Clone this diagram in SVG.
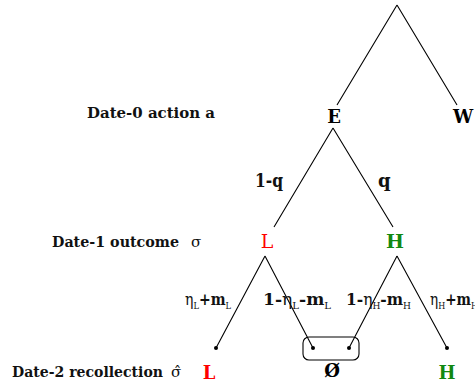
<svg xmlns="http://www.w3.org/2000/svg" width="475" height="387" viewBox="0 0 475 387">
<style>
.ln{stroke:#000;stroke-width:1.1;fill:none}
.lab{font-family:"DejaVu Serif","Liberation Serif",serif;font-weight:bold;font-size:14px;fill:#111}
.node{font-family:"DejaVu Serif","Liberation Serif",serif;font-weight:bold;font-size:18px;fill:#000}
.edge{font-family:"DejaVu Serif","Liberation Serif",serif;font-weight:bold;font-size:18px;fill:#111}
.eta{font-family:"DejaVu Serif","Liberation Serif",serif;font-size:17px;fill:#111}
.b{font-weight:bold}
.sub{font-size:10px}
.red{fill:#ff0000}
.green{fill:#118811}
.dot{fill:#000}
</style>
<rect width="475" height="387" fill="#fff"/>
<g id="connectors">
<path class="ln" d="M397,5 L337,105 M397,5 L457,105"/>
<path class="ln" d="M333,128 L274,227 M333,128 L393,227"/>
<path class="ln" d="M265,256 L216,348 M265,256 L313,348"/>
<path class="ln" d="M397,256 L349,348 M397,256 L447,348"/>
<rect class="ln" x="303" y="337" width="56" height="23" rx="6"/>
</g>
<g id="labels">
<text class="lab" x="87" y="118" textLength="128" lengthAdjust="spacingAndGlyphs">Date-0 action a</text>
<text class="lab" x="52" y="247" textLength="127" lengthAdjust="spacingAndGlyphs">Date-1 outcome</text>
<text class="eta" x="191" y="247" style="font-size:15px">σ</text>
<text class="lab" x="12" y="377" textLength="151" lengthAdjust="spacingAndGlyphs">Date-2 recollection</text>
<text class="eta" x="171" y="377" style="font-size:15px">σ̂</text>
</g>
<g id="node-root"/>
<g id="node-E"><text class="node" x="334" y="123" text-anchor="middle">E</text></g>
<g id="node-W"><text class="node" x="453" y="123">W</text></g>
<g id="node-L"><text class="node red" x="267" y="248" text-anchor="middle" style="font-weight:normal;font-size:19px">L</text></g>
<g id="node-H"><text class="node green" x="395" y="248" text-anchor="middle" style="font-size:19px">H</text></g>
<g id="node-LL"><circle class="dot" cx="216" cy="348" r="2"/><text class="node red" x="209" y="379" text-anchor="middle">L</text></g>
<g id="node-L0"><circle class="dot" cx="313" cy="348" r="2"/></g>
<g id="node-H0"><circle class="dot" cx="349" cy="348" r="2"/></g>
<g id="node-empty"><text class="node" x="332" y="377" text-anchor="middle">Ø</text></g>
<g id="node-HH"><circle class="dot" cx="447" cy="348" r="2"/><text class="node green" x="447" y="379" text-anchor="middle">H</text></g>
<g id="edge-labels">
<text class="edge" x="255" y="187" textLength="28" lengthAdjust="spacingAndGlyphs">1-q</text>
<text class="edge" x="378" y="187">q</text>
<text class="eta" x="185" y="305" textLength="46" lengthAdjust="spacingAndGlyphs">η<tspan class="sub" dy="4">L</tspan><tspan dy="-4" class="b">+m</tspan><tspan class="sub" dy="4">L</tspan></text>
<text class="eta" x="263" y="305" textLength="68" lengthAdjust="spacingAndGlyphs"><tspan class="b">1-</tspan>η<tspan class="sub" dy="4">L</tspan><tspan dy="-4" class="b">-m</tspan><tspan class="sub" dy="4">L</tspan></text>
<text class="eta" x="346" y="305" textLength="65" lengthAdjust="spacingAndGlyphs"><tspan class="b">1-</tspan>η<tspan class="sub" dy="4">H</tspan><tspan dy="-4" class="b">-m</tspan><tspan class="sub" dy="4">H</tspan></text>
<text class="eta" x="430" y="305" textLength="48" lengthAdjust="spacingAndGlyphs">η<tspan class="sub" dy="4">H</tspan><tspan dy="-4" class="b">+m</tspan><tspan class="sub" dy="4">H</tspan></text>
</g>
</svg>
